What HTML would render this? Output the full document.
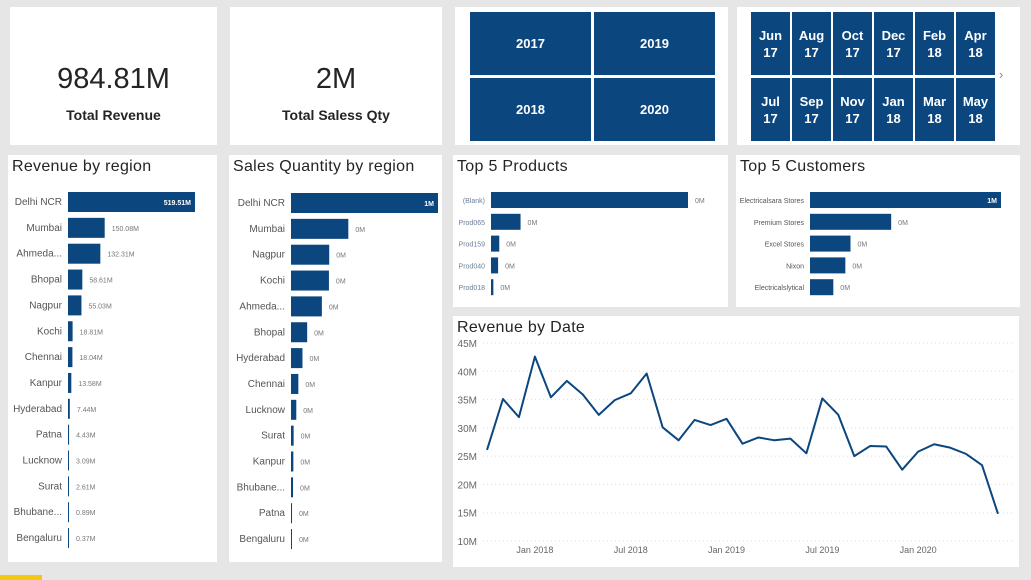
<!DOCTYPE html>
<html><head><meta charset="utf-8">
<style>
body{margin:0;width:1031px;height:580px;background:#e6e6e6;font-family:"Liberation Sans",sans-serif;position:relative;overflow:hidden}
.p{position:absolute;background:#fff}
.t{position:absolute;left:4px;top:3px;font-size:16px;color:#252423;letter-spacing:0.3px}
.tile{position:absolute;background:#0b467f;color:#fff;font-weight:bold;display:flex;align-items:center;justify-content:center;text-align:center;line-height:17px}
svg{position:absolute;left:0;top:0}
</style></head><body>
<div class="p" style="left:10px;top:7px;width:207px;height:138px">
 <div style="position:absolute;top:56px;width:100%;text-align:center;font-size:29px;color:#252423">984.81M</div>
 <div style="position:absolute;top:100px;width:100%;text-align:center;font-size:14px;font-weight:bold;color:#252423">Total Revenue</div>
</div>
<div class="p" style="left:230px;top:7px;width:212px;height:138px">
 <div style="position:absolute;top:56px;width:100%;text-align:center;font-size:29px;color:#252423">2M</div>
 <div style="position:absolute;top:100px;width:100%;text-align:center;font-size:14px;font-weight:bold;color:#252423">Total Saless Qty</div>
</div>
<div class="p" style="left:455px;top:7px;width:273px;height:138px">
 <div class="tile" style="left:15px;top:5px;width:121px;height:63px;font-size:13px">2017</div>
 <div class="tile" style="left:139px;top:5px;width:121px;height:63px;font-size:13px">2019</div>
 <div class="tile" style="left:15px;top:71px;width:121px;height:63px;font-size:13px">2018</div>
 <div class="tile" style="left:139px;top:71px;width:121px;height:63px;font-size:13px">2020</div>
</div>
<div class="p" style="left:737px;top:7px;width:283px;height:138px" id="ms">
 <div style="position:absolute;left:262px;top:60px;color:#888;font-size:13px">›</div>
</div>
<div class="p" style="left:8px;top:155px;width:209px;height:407px"><div class="t">Revenue by region</div><svg id="rr" width="209" height="407"></svg></div>
<div class="p" style="left:229px;top:155px;width:213px;height:407px"><div class="t">Sales Quantity by region</div><svg id="sq" width="213" height="407"></svg></div>
<div class="p" style="left:453px;top:155px;width:275px;height:152px"><div class="t">Top 5 Products</div><svg id="tp" width="275" height="152"></svg></div>
<div class="p" style="left:736px;top:155px;width:284px;height:152px"><div class="t">Top 5 Customers</div><svg id="tc" width="284" height="152"></svg></div>
<div class="p" style="left:453px;top:316px;width:566px;height:251px"><div class="t">Revenue by Date</div><svg id="ln" width="566" height="251"></svg></div>
<div style="position:absolute;left:0;top:575px;width:42px;height:5px;background:#f2c811"></div>
<script>
const monthTop=["Jun","Aug","Oct","Dec","Feb","Apr"],monthTopYr=["17","17","17","17","18","18"];
const monthBot=["Jul","Sep","Nov","Jan","Mar","May"],monthBotYr=["17","17","17","18","18","18"];
const regRegions=["Delhi NCR","Mumbai","Ahmeda...","Bhopal","Nagpur","Kochi","Chennai","Kanpur","Hyderabad","Patna","Lucknow","Surat","Bhubane...","Bengaluru"];
const regRevenue=[519.51,150.08,132.31,58.61,55.03,18.81,18.04,13.58,7.44,4.43,3.09,2.61,0.89,0.37];
const qtyRegions=["Delhi NCR","Mumbai","Nagpur","Kochi","Ahmeda...","Bhopal","Hyderabad","Chennai","Lucknow","Surat","Kanpur","Bhubane...","Patna","Bengaluru"];
const qtyValues=[1000,390,260,258,210,110,78,50,36,18,16,14,7,5];
const qtyLabels=["1M","0M","0M","0M","0M","0M","0M","0M","0M","0M","0M","0M","0M","0M"];
const prodNames=["(Blank)","Prod065","Prod159","Prod040","Prod018"];
const prodValues=[1000,150,42,36,12];
const custNames=["Electricalsara Stores","Premium Stores","Excel Stores","Nixon","Electricalslytical"];
const custValues=[1000,425,212,185,122];
const custLabels=["1M","0M","0M","0M","0M"];
const revMonths=["2017-10","2017-11","2017-12","2018-01","2018-02","2018-03","2018-04","2018-05","2018-06","2018-07","2018-08","2018-09","2018-10","2018-11","2018-12","2019-01","2019-02","2019-03","2019-04","2019-05","2019-06","2019-07","2019-08","2019-09","2019-10","2019-11","2019-12","2020-01","2020-02","2020-03","2020-04","2020-05","2020-06"];
const revValues=[26.1,35.1,31.9,42.6,35.4,38.3,35.9,32.3,34.9,36.1,39.6,30.1,27.8,31.4,30.5,31.6,27.2,28.3,27.8,28.1,25.5,35.2,32.3,25.0,26.8,26.7,22.6,25.8,27.1,26.5,25.4,23.4,14.8];
const yTicks=[10,15,20,25,30,35,40,45];
const xTickLabels=["Jan 2018","Jul 2018","Jan 2019","Jul 2019","Jan 2020"];
const xTickMonths=["2018-01","2018-07","2019-01","2019-07","2020-01"];
const NS="http://www.w3.org/2000/svg",BLUE="#0b467f";
function mk(p,tag,a){const e=document.createElementNS(NS,tag);for(const k in a)e.setAttribute(k,a[k]);p.appendChild(e);return e;}
const ms=document.getElementById('ms');
function tile(x,y,m,yr){const d=document.createElement('div');d.className='tile';d.style.cssText=`left:${x}px;top:${y}px;width:39px;height:63px;font-size:13px`;d.innerHTML=m+'<br>'+yr;


ms.appendChild(d);}
monthTop.forEach((m,i)=>tile(14+i*41,5,m,monthTopYr[i]));
monthBot.forEach((m,i)=>tile(14+i*41,71,m,monthBotYr[i]));
function hbar(svg,cats,vals,labels,o){
 const s=document.getElementById(svg);const mx=Math.max(...vals);
 cats.forEach((c,i)=>{const cy=o.y0+i*o.step;const w=Math.max(1,vals[i]/mx*o.w);
  const t=mk(s,'text',{x:o.x0-6,y:cy+3,'text-anchor':'end','font-size':o.fs,fill:o.cc||'#555'});t.textContent=c;
  
  
  const r=mk(s,'rect',{x:o.x0,y:cy-o.h/2,width:w,height:o.h,fill:BLUE});
  
  
  const lab=labels[i];const inside=!o.outside&&w>o.w*0.8;
  const l=mk(s,'text',{x:inside?o.x0+w-4:o.x0+w+7,y:cy+3,'text-anchor':inside?'end':'start','font-size':o.vfs,fill:inside?'#fff':'#777','font-weight':inside?'bold':'normal'});l.textContent=lab;
  
  
 });
}
hbar('rr',regRegions,regRevenue,regRevenue.map(v=>v.toFixed(2)+'M'),{x0:60,y0:47,step:25.85,w:127,h:20,fs:10,vfs:7});
hbar('sq',qtyRegions,qtyValues,qtyLabels,{x0:62,y0:48,step:25.85,w:147,h:20,fs:10,vfs:7});
hbar('tp',prodNames,prodValues,["0M","0M","0M","0M","0M"],{x0:38,y0:45,step:21.8,w:197,h:16,fs:7,vfs:7,outside:true,cc:'#6a7f99'});
hbar('tc',custNames,custValues,custLabels,{x0:74,y0:45,step:21.8,w:191,h:16,fs:7,vfs:7});
const ln=document.getElementById('ln');
const X0=34,X1=545,Y45=27,Y10=225;
function ym(v){return Y10-(v-10)/35*(Y10-Y45);}
function xi(i){return X0+i*(X1-X0)/(revMonths.length-1);}
yTicks.forEach(v=>{mk(ln,'line',{x1:30,x2:560,y1:ym(v),y2:ym(v),stroke:'#ddd','stroke-dasharray':'1 3'});
 const t=mk(ln,'text',{x:24,y:ym(v)+4,'text-anchor':'end','font-size':10,fill:'#666'});t.textContent=v+'M';
 
 });
xTickLabels.forEach((l,k)=>{const i=revMonths.indexOf(xTickMonths[k]);const t=mk(ln,'text',{x:xi(i),y:237,'text-anchor':'middle','font-size':9,fill:'#666'});t.textContent=l;
 
 });
const pl=mk(ln,'polyline',{points:revValues.map((v,i)=>xi(i)+','+ym(v)).join(' '),fill:'none',stroke:BLUE,'stroke-width':2,'stroke-linejoin':'round'});


</script>
</body></html>
